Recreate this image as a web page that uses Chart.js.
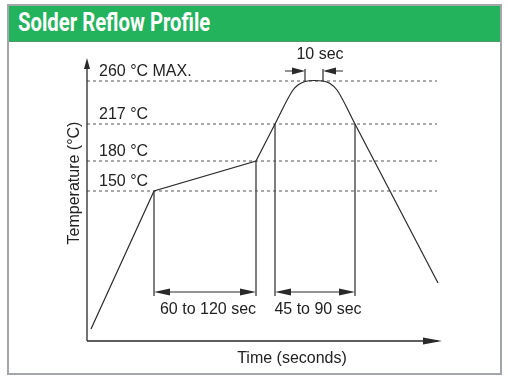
<!DOCTYPE html>
<html>
<head>
<meta charset="utf-8">
<script src="https://cdn.jsdelivr.net/npm/chart.js@4"></script>
<style>
  html, body { margin: 0; padding: 0; background: #fff; }
  #frame {
    position: absolute; left: 7px; top: 4px; width: 491px; height: 367px;
    border: 2px solid #a3a7a9; background: #fff;
  }
  #header {
    position: absolute; left: 0; top: 0; width: 491px; height: 35px;
    background: #22b35c; border-bottom: 1px solid #4f9a6e;
  }
  #header span {
    position: absolute; left: 9px; top: 1px;
    font-family: Roboto, "Liberation Sans", sans-serif; font-weight: bold;
    font-size: 26px; color: #fff; transform: scaleX(0.78); transform-origin: left center;
    white-space: nowrap;
  }
  #wrap { position: absolute; left: 0; top: 0; width: 508px; height: 381px; }
</style>
</head>
<body>
<div id="frame"><div id="header"><span>Solder Reflow Profile</span></div></div>
<div id="wrap"><canvas id="reflow_chart"></canvas></div>
<script>
// profile (time in s, temperature in °C)
const profileTime = [4, 67, 169, 188, 206, 211, 218, 227, 236, 243, 250, 268, 351];
const profileTemp = [12, 150, 180, 217, 251, 256, 259.5, 260.5, 260, 257.5, 251, 217, 58];
const peakFrom = 3, peakTo = 11; // rounded part of the curve

// reference temperature levels
const levelTemps = [260, 217, 180, 150];
const levelLabels = ['260 °C MAX.', '217 °C', '180 °C', '150 °C'];

// dimension markers
const markerTimes = [67, 169, 188, 268];
const markerTops = [150, 180, 217, 217];
const spanLabels = ['60 to 120 sec', '45 to 90 sec'];
const peakTimes = [218, 236];

const lineColor = '#2a2a2a';
const font = '16px "Liberation Sans", Arial, sans-serif';

const pts = profileTime.map((t, i) => ({ x: t, y: profileTemp[i] }));
const datasets = [
    { data: pts.slice(0, peakFrom + 1), borderColor: lineColor, borderWidth: 1.2, pointRadius: 0 },
    { data: pts.slice(peakFrom, peakTo + 1), borderColor: lineColor, borderWidth: 1.2, pointRadius: 0,
      cubicInterpolationMode: 'monotone' },
    { data: pts.slice(peakTo), borderColor: lineColor, borderWidth: 1.2, pointRadius: 0 }
];
levelTemps.forEach(v => datasets.push({
    data: [{ x: 0, y: v }, { x: 350, y: v }],
    borderColor: '#555', borderWidth: 1.2, borderDash: [3, 3], pointRadius: 0
}));
markerTimes.forEach((t, i) => datasets.push({
    data: [{ x: t, y: markerTops[i] }, { x: t, y: 45 }],
    borderColor: lineColor, borderWidth: 1.2, pointRadius: 0
}));
peakTimes.forEach(t => datasets.push({
    data: [{ x: t, y: 260 }, { x: t, y: 272 }],
    borderColor: lineColor, borderWidth: 1.2, pointRadius: 0
}));

function arrowHead(ctx, x, y, dx, dy, len, half) {
    ctx.beginPath();
    ctx.moveTo(x, y);
    ctx.lineTo(x - dx * len - dy * half, y - dy * len + dx * half);
    ctx.lineTo(x - dx * len + dy * half, y - dy * len - dx * half);
    ctx.closePath();
    ctx.fill();
}

const overlay = {
    id: 'overlay',
    afterDatasetsDraw(chart) {
        const { ctx, chartArea, scales: { x, y } } = chart;
        ctx.save();
        ctx.strokeStyle = lineColor;
        ctx.fillStyle = lineColor;
        ctx.lineWidth = 1.3;

        // axes with arrows
        const ox = chartArea.left, oy = chartArea.bottom;
        ctx.beginPath();
        ctx.moveTo(ox, oy); ctx.lineTo(ox, chartArea.top + 4);
        ctx.moveTo(ox, oy); ctx.lineTo(chartArea.right - 4, oy);
        ctx.stroke();
        arrowHead(ctx, ox, chartArea.top, 0, -1, 11, 3);
        arrowHead(ctx, chartArea.right, oy, 1, 0, 19, 3.5);

        // span arrows at bottom
        const ay = y.getPixelForValue(49);
        [[0, 1], [2, 3]].forEach(([a, b]) => {
            const x1 = x.getPixelForValue(markerTimes[a]);
            const x2 = x.getPixelForValue(markerTimes[b]);
            ctx.lineWidth = 1.2;
            ctx.beginPath(); ctx.moveTo(x1 + 8, ay); ctx.lineTo(x2 - 8, ay); ctx.stroke();
            arrowHead(ctx, x1, ay, -1, 0, 16, 3.5);
            arrowHead(ctx, x2, ay, 1, 0, 16, 3.5);
        });

        // 10 sec arrows pointing inward
        const py = y.getPixelForValue(270);
        const p1 = x.getPixelForValue(peakTimes[0]);
        const p2 = x.getPixelForValue(peakTimes[1]);
        ctx.beginPath();
        ctx.moveTo(p1 - 20, py); ctx.lineTo(p1 - 6, py);
        ctx.moveTo(p2 + 6, py); ctx.lineTo(p2 + 20, py);
        ctx.stroke();
        arrowHead(ctx, p1, py, 1, 0, 13, 3.5);
        arrowHead(ctx, p2, py, -1, 0, 13, 3.5);

        // texts
        ctx.font = font;
        ctx.fillStyle = '#222';
        ctx.textBaseline = 'middle';
        ctx.textAlign = 'left';
        levelTemps.forEach((v, i) => {
            ctx.fillText(levelLabels[i], x.getPixelForValue(12), y.getPixelForValue(v) - 9);
        });
        ctx.textAlign = 'center';
        const ly = ay + 18;
        ctx.fillText(spanLabels[0], x.getPixelForValue(121), ly);
        ctx.fillText(spanLabels[1], x.getPixelForValue(231), ly);
        ctx.fillText('10 sec', x.getPixelForValue(233), py - 16);
        ctx.fillText('Time (seconds)', x.getPixelForValue(205), oy + 18);
        ctx.translate(ox - 12, y.getPixelForValue(158));
        ctx.rotate(-Math.PI / 2);
        ctx.fillText('Temperature (°C)', 0, 0);
        ctx.restore();
    }
};

new Chart(document.getElementById('reflow_chart'), {
    type: 'line',
    data: { datasets: datasets },
    options: {
        responsive: true,
        maintainAspectRatio: false,
        animation: false,
        layout: { padding: { left: 87, right: 66, top: 58, bottom: 40 } },
        scales: {
            x: { type: 'linear', min: 0, max: 355, display: false },
            y: { type: 'linear', min: 0, max: 283, display: false }
        },
        plugins: { legend: { display: false }, tooltip: { enabled: false } }
    },
    plugins: [overlay]
});
</script>
</body>
</html>
